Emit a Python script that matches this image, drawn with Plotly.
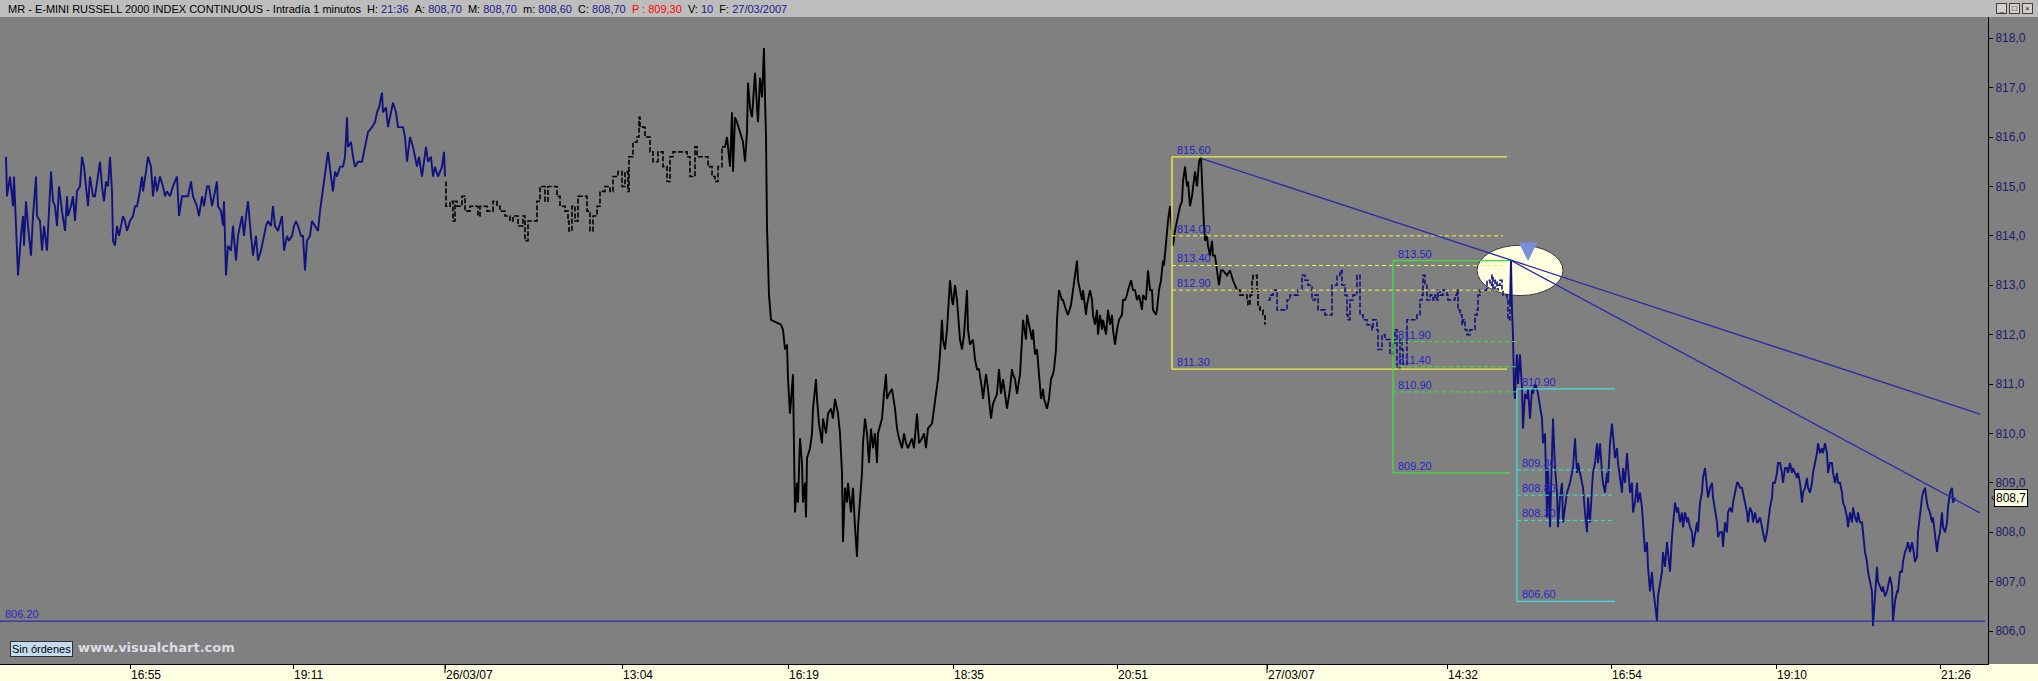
import plotly.graph_objects as go

# ---------------- price path (bar index, price) ----------------
SESSION_1 = [(6,815.6),(7,814.8),(10,815.2),(13,814.6),(14,815.2),(15,814.7),(17,814.0),(18,813.2),(21,814.0),(23,814.4),(24,813.8),(26,814.7),(28,814.2),(31,813.6),(33,814.4),(36,815.2),(37,814.4),(40,814.3),(42,813.7),(44,814.2),(47,813.7),(49,814.4),(51,815.3),(53,814.7),(55,814.6),(57,814.2),(59,815.0),(62,814.5),(65,814.1),(67,814.8),(68,814.4),(71,814.6),(73,814.8),(75,814.3),(77,814.9),(80,815.0),(82,815.6),(84,815.4),(86,815.0),(88,814.6),(90,815.2),(93,814.8),(95,814.8),(97,815.1),(100,815.5),(102,815.0),(104,814.7),(106,815.1),(108,815.0),(110,815.6),(112,814.9),(113,813.9),(115,813.8),(117,814.2),(119,814.0),(123,814.4),(125,814.3),(127,814.1),(130,814.3),(133,814.4),(135,814.6),(137,814.6),(139,814.8),(142,815.2),(143,814.9),(146,815.3),(148,815.6),(151,815.4),(153,814.8),(155,815.2),(157,814.9),(160,815.2),(163,815.0),(165,814.8),(167,814.9),(170,814.8),(173,815.0),(177,815.2),(179,814.4),(182,814.8),(185,814.8),(188,814.8),(191,815.1),(193,814.8),(197,814.6),(199,814.4),(202,814.8),(204,814.6),(207,815.0),(209,815.0),(212,814.6),(214,814.8),(217,815.1),(218,814.6),(221,814.5),(223,814.2),(224,814.7),(226,813.2),(228,813.8),(231,813.7),(233,814.2),(236,813.5),(238,814.0),(242,814.4),(244,814.0),(246,814.4),(248,814.7),(251,814.0),(253,813.6),(256,814.0),(258,813.5),(261,813.7),(263,813.9),(266,814.2),(268,814.3),(271,814.2),(273,814.6),(275,814.2),(278,814.1),(282,814.4),(284,813.7),(287,814.0),(289,813.9),(292,814.0),(294,814.2),(296,814.3),(298,814.2),(301,814.0),(303,814.0),(305,813.3),(307,813.9),(310,814.0),(312,814.3),(315,814.2),(318,814.1),(320,814.5),(322,814.8),(324,815.2),(326,815.5),(328,815.7),(331,815.2),(333,814.9),(335,815.3),(337,815.2),(340,815.4),(343,815.4),(345,815.6),(347,816.4),(348,815.8),(351,815.9),(353,815.6),(355,815.4),(358,815.5),(362,815.5),(365,815.8),(368,816.1),(372,816.2),(375,816.3),(377,816.5),(379,816.6),(382,816.9),(383,816.5),(386,816.6),(388,816.2),(391,816.5),(393,816.7),(396,816.5),(398,816.2),(403,816.2),(405,816.0),(407,815.5),(410,816.0),(413,815.8),(417,815.4),(419,815.6),(422,815.2),(424,815.5),(426,815.8),(428,815.5),(431,815.6),(433,815.2),(435,815.4),(438,815.2),(442,815.4),(444,815.7),(445,815.2)]

SESSION_2 = [(446,815.1),(446,814.6),(450,814.7),(453,814.3),(455,814.7),(457,814.6),(462,814.8),(465,814.5),(470,814.6),(478,814.4),(480,814.6),(487,814.5),(493,814.7),(497,814.6),(500,814.5),(505,814.4),(510,814.3),(513,814.4),(518,814.2),(523,814.4),(525,813.9),(528,814.3),(533,814.3),(537,814.7),(540,815.0),(545,814.7),(548,815.0),(553,815.0),(557,814.8),(560,814.6),(565,814.5),(568,814.3),(569,814.1),(572,814.6),(575,814.3),(578,814.8),(585,814.8),(587,814.5),(590,814.1),(593,814.4),(597,814.6),(600,814.9),(605,815.0),(610,814.9),(613,815.2),(618,815.3),(622,815.0),(625,815.3),(628,814.9),(629,815.6),(633,815.9),(637,816.0),(639,816.4),(640,816.2),(645,816.0),(650,815.7),(653,815.5),(658,815.7),(663,815.4),(667,815.1),(670,815.6),(673,815.7),(678,815.7),(683,815.7),(687,815.6),(690,815.2),(695,815.8),(697,815.6),(702,815.6),(705,815.6),(708,815.4),(712,815.2),(715,815.1),(718,815.4),(722,815.8),
(725,815.8),(727,816.0),(730,815.4),(732,816.5),(733,815.3),(735,816.4),(737,816.3),(740,816.1),(743,815.9),(745,815.5),(747,816.1),(748,817.1),(750,816.6),(752,816.4),(755,817.3),(757,816.6),(758,816.3),(760,817.2),(762,816.8),(763,817.3),(764,817.8),(765,816.8),(766,816.0),(767,814.2),(768,813.5),(769,812.8),(771,812.3),
(781,812.2),(783,812.1),(785,811.7),(787,811.8),(788,811.1),(790,810.4),(793,811.2),(794,809.7),(795,808.4),(797,809.0),(798,808.6),(800,809.9),(802,809.4),(803,808.6),(805,809.0),(806,808.3),(807,809.5),(810,809.7),(812,810.0),(813,810.5),(816,811.1),(817,810.7),(819,810.2),(822,809.8),(823,810.3),(826,810.0),(828,810.4),(831,810.5),(833,810.3),(835,810.7),(837,810.5),(838,810.4),(840,810.0),(842,809.2),(843,807.8),(845,808.9),(847,808.6),(848,809.0),(851,808.4),(853,808.9),(855,808.1),(857,807.5),(858,808.1),(860,808.6),(862,809.2),(863,809.8),(865,810.3),(867,810.0),(869,809.4),(871,810.1),(873,809.7),(875,810.0),(877,809.4),(878,810.0),(882,810.3),(884,810.8),(886,811.2),(887,810.7),(889,810.8),(892,810.9),(895,810.5),(897,810.1),(899,809.9),(902,809.7),(904,810.0),(906,809.8),(908,809.7),(912,809.9),(914,809.7),(917,810.4),(919,809.8),(922,809.9),(924,810.0),(926,809.7),(928,810.1),(932,810.2),(934,810.5),(936,810.8),(938,811.1),(940,811.6),(942,812.3),(943,811.9),(945,811.7),(947,812.1),(948,812.5),(950,813.1),(952,812.7),(953,812.6),(955,813.0),(957,812.7),(960,811.9),(962,811.7),(964,812.0),(967,812.9),(968,812.1),(970,811.8),(973,811.9),(975,811.5),(977,811.3),(979,811.3),(982,810.9),(983,810.7),(986,811.2),(988,810.9),(991,810.3),(993,810.6),(995,810.7),(997,810.8),(999,811.3),(1001,810.8),(1003,811.1),(1005,810.8),(1007,810.5),(1010,810.9),(1012,811.3),(1013,811.2),(1015,811.1),(1017,810.8),(1020,811.2),(1022,811.9),(1023,812.3),(1026,811.9),(1027,812.4),(1029,812.2),(1032,811.9),(1033,812.1),(1035,811.6),(1037,811.7),(1039,811.2),(1041,810.7),(1043,810.9),(1044,810.7),(1047,810.5),(1049,810.7),(1051,811.1),(1053,811.2),(1054,811.3),(1056,811.7),(1057,812.3),(1059,812.9),(1062,812.7),(1063,812.7),(1066,812.5),(1068,812.4),(1071,812.6),(1073,812.9),(1075,813.1),(1077,813.5),(1078,813.1),(1080,812.9),(1082,812.7),(1083,812.9),(1086,812.4),(1087,812.6),(1090,812.9),(1092,812.7),(1093,812.4),(1095,812.2),(1097,812.5),(1098,812.0),(1100,812.4),(1102,812.1),(1103,812.3),(1106,812.0),(1108,812.5),(1110,812.2),(1112,812.4),(1113,812.1),(1115,811.8),(1117,812.1),(1119,812.3),(1122,812.4),(1123,812.7),(1125,812.7),(1127,812.8),(1128,812.9),(1131,813.1),(1133,812.9),(1135,812.9),(1137,812.7),(1139,812.8),(1142,812.5),(1143,812.8),(1146,812.7),(1148,813.3),(1150,812.9),(1152,812.9),(1153,812.5),(1156,812.4),(1157,812.5),(1159,812.9),(1161,813.1),(1163,813.5),(1164,813.4),(1166,813.9),(1168,814.3),(1170,814.6),(1172,814.1),(1173,813.8),(1175,814.1),(1177,814.3),(1180,814.6),
(1182,814.7),(1183,815.1),(1185,815.4),(1187,815.0),(1188,815.1),(1190,814.6),(1192,814.8),(1193,815.0),(1195,815.3),(1197,815.0),(1198,815.4),(1199,815.5),(1201,815.6),(1202,815.1),(1203,814.5),(1204,814.2),(1205,813.9),(1207,814.0),(1208,813.8),(1210,813.6),(1212,813.9),(1213,813.6),(1215,813.6),(1217,813.3),(1218,813.1),(1219,813.0),(1221,813.3),(1223,813.3),(1227,813.2),(1230,813.3),(1233,813.1),(1237,812.9),(1240,812.8),(1243,812.8),(1247,812.7),(1248,812.6),(1250,812.8),(1252,813.1),(1253,813.2),(1257,812.9),(1258,812.6),(1260,812.5),(1263,812.4),(1265,812.2)]

SESSION_3 = [(1268,812.7),(1270,812.8),(1273,812.9),(1277,812.5),(1280,812.5),(1283,812.5),(1287,812.7),(1290,812.8),(1293,812.8),(1298,812.9),(1302,813.2),(1305,813.1),(1308,813.0),(1312,812.7),(1315,812.8),(1318,812.5),(1322,812.5),(1325,812.4),(1328,812.4),(1332,813.0),(1333,813.0),(1337,813.2),(1340,813.3),(1342,813.0),(1345,812.8),(1347,812.4),(1348,812.3),(1350,812.7),(1353,812.8),(1357,813.2),(1360,812.4),(1363,812.3),(1367,812.2),(1372,812.1),(1373,812.3),(1377,812.1),(1378,811.7),(1382,812.0),(1385,811.9),(1388,811.9),(1390,811.6),(1393,811.8),(1395,812.1),(1397,811.3),(1398,811.3),(1400,811.9),(1402,811.7),(1403,811.4),(1407,812.3),(1410,812.3),(1413,812.3),(1417,812.4),(1420,812.7),(1422,812.8),(1423,813.2),(1425,813.0),(1427,812.7),(1430,812.8),(1433,812.7),(1435,812.8),(1437,812.7),(1438,812.9),(1440,812.8),(1443,812.9),(1447,812.8),(1448,812.7),(1452,812.7),(1455,812.8),(1457,812.9),(1458,812.5),(1460,812.4),(1462,812.2),(1463,812.3),(1465,812.1),(1467,812.0),(1470,812.1),(1473,812.1),(1475,812.4),(1477,812.5),(1478,812.8),(1480,812.9),(1483,812.9),(1487,813.1),(1488,813.1),(1490,813.0),(1492,813.2),(1493,812.9),(1495,813.1),(1497,812.9),(1498,813.0),(1500,813.1),(1502,812.9),(1503,812.8),(1505,812.8),(1507,812.7),(1508,812.3),(1510,812.6),
(1511,813.5),(1512,812.5),(1513,812.0),(1514,810.9),(1515,810.7),(1516,811.3),(1517,811.6),(1518,811.0),(1520,811.6),(1522,810.9),(1523,810.1),(1525,810.8),(1527,810.7),(1528,810.9),(1530,810.3),(1532,810.9),(1533,810.8),(1535,811.0),(1537,810.9),(1538,810.8),(1540,810.5),(1542,810.3),(1543,809.8),(1545,810.0),(1547,808.3),(1548,809.3),(1550,808.1),(1552,809.9),(1553,810.3),(1555,809.3),(1557,808.8),(1558,808.1),(1560,808.7),(1562,809.0),(1563,808.2),(1567,808.8),(1570,809.0),(1573,809.3),(1575,809.9),(1577,809.2),(1578,809.4),
(1582,809.0),(1583,808.9),(1585,808.4),(1587,808.0),(1588,808.7),(1590,808.2),(1592,808.9),(1593,809.2),(1595,809.4),(1597,809.8),(1598,809.4),(1600,809.8),(1602,809.2),(1603,809.0),(1605,808.8),(1607,809.2),(1608,809.0),(1610,809.8),(1612,810.2),(1613,810.0),(1615,809.5),(1617,809.7),(1618,809.4),(1620,809.1),(1622,808.8),(1623,809.3),(1625,809.0),(1627,809.6),(1628,809.3),(1630,808.8),(1632,809.0),(1633,808.4),(1635,808.6),(1637,809.0),(1638,808.6),(1640,808.8),(1642,808.5),(1643,808.2),(1645,807.6),(1647,807.8),(1648,807.3),(1650,806.8),(1652,807.2),(1653,806.9),(1655,806.6),(1657,806.2),(1658,806.7),(1660,807.0),(1662,807.2),(1663,807.6),(1665,807.3),(1667,807.8),(1668,807.6),(1670,807.2),(1672,807.9),(1673,808.1),(1675,808.6),(1677,808.4),(1678,808.5),(1680,808.2),(1682,808.4),(1683,808.1),(1685,808.4),(1687,808.2),(1688,808.3),(1690,808.1),(1692,808.0),(1693,807.7),(1695,808.0),(1697,808.2),(1698,808.0),(1700,808.6),(1702,808.8),(1703,809.1),(1705,809.3),(1707,808.8),(1708,808.7),(1710,808.9),(1712,809.0),(1713,808.7),(1715,808.4),(1717,808.2),(1718,807.9),(1720,808.0),(1722,808.0),(1723,807.7),(1725,808.2),(1727,808.0),(1728,808.4),(1730,808.5),(1732,808.4),(1733,808.6),(1735,808.8),(1737,809.0),(1738,809.0),(1740,808.9),(1742,808.9),(1743,808.8),(1745,808.6),(1747,808.4),(1748,808.2),(1750,808.5),(1752,808.4),(1753,808.2),(1755,808.4),(1757,808.2),(1758,808.2),(1760,808.3),(1762,808.1),(1763,808.0),(1765,807.8),(1767,808.0),(1768,808.2),(1770,808.5),(1772,808.7),(1773,809.0),(1775,809.0),(1777,809.2),(1778,809.4),(1780,809.4),(1782,809.2),(1783,809.0),(1785,809.3),(1787,809.3),(1788,809.2),(1790,809.4),(1792,809.2),(1793,809.3),(1795,809.2),(1797,809.1),(1798,809.2),(1800,809.0),(1802,808.6),(1803,808.8),(1805,808.9),(1807,809.1),(1808,808.9),(1810,808.8),(1812,809.0),(1813,809.2),(1815,809.4),(1817,809.6),(1818,809.8),(1820,809.6),(1822,809.7),(1823,809.6),(1825,809.8),(1827,809.6),(1828,809.2),(1830,809.4),(1832,809.4),(1833,809.2),(1835,809.0),(1837,809.2),(1838,809.0),(1840,809.0),(1842,808.8),(1843,808.6),(1845,808.5),(1847,808.3),(1848,808.1),(1850,808.4),(1852,808.2),(1853,808.5),(1855,808.3),(1857,808.2),(1858,808.4),(1860,808.2),(1862,808.2),(1863,808.0),(1865,807.6),(1867,807.4),(1868,807.2),(1870,807.0),(1872,806.8),(1873,806.1),(1875,806.7),(1877,807.3),(1878,807.0),(1880,806.9),(1882,806.8),(1883,806.9),(1885,806.7),(1887,806.8),(1888,806.9),(1890,807.1),(1892,806.9),(1893,806.2),(1895,806.6),(1897,806.8),(1898,806.8),(1900,807.2),(1902,807.2),(1903,807.4),(1905,807.6),(1907,807.7),(1908,807.8),(1910,807.6),(1912,807.8),(1913,807.7),(1915,807.4),(1917,807.5),(1918,808.0),(1920,808.4),(1922,808.7),(1923,808.8),(1925,808.9),(1927,808.6),(1928,808.5),(1930,808.4),(1932,808.2),(1933,808.3),(1935,808.0),(1937,807.6),(1938,807.8),(1940,808.0),(1942,808.4),(1943,808.1),(1945,808.0),(1947,808.2),(1948,808.5),(1950,808.8),(1952,808.9),(1953,808.6),(1955,808.7)]

# bar ranges traded thinly (drawn as stepped dashes)
SPARSE_RANGES = [(445, 722), (1236, 1510)]

# ---------------- axes ----------------
TICK_BARS = [130, 293, 445, 622, 788, 953, 1117, 1267, 1447, 1611, 1776, 1940]
TICK_LABELS = ["16:55", "19:11", "26/03/07", "13:04", "16:19", "18:35", "20:51",
               "27/03/07", "14:32", "16:54", "19:10", "21:26"]
DATE_TICK_BARS = [445, 1267]
PRICE_TICKS = [806, 807, 808, 809, 810, 811, 812, 813, 814, 815, 816, 817, 818]
PRICE_TICK_LABELS = ["806,0", "807,0", "808,0", "809,0", "810,0", "811,0", "812,0",
                     "813,0", "814,0", "815,0", "816,0", "817,0", "818,0"]
BAR_RANGE = [0, 1988]
PRICE_RANGE = [805.332, 818.43]

# ---------------- drawings ----------------
FIB_YELLOW_BARS = [1172, 1507, 1503]          # start, box end, retracement end
FIB_YELLOW_LEVELS = [815.60, 814.00, 813.40, 812.90, 811.30]
FIB_YELLOW_LABELS = ["815.60", "814.00", "813.40", "812.90", "811.30"]

FIB_GREEN_BARS = [1393, 1510, 1516]
FIB_GREEN_LEVELS = [813.50, 811.86, 811.35, 810.84, 809.20]
FIB_GREEN_LABELS = ["813.50", "811.90", "811.40", "810.90", "809.20"]

FIB_CYAN_BARS = [1517, 1615, 1615]
FIB_CYAN_LEVELS = [810.90, 809.26, 808.75, 808.24, 806.60]
FIB_CYAN_LABELS = ["810.90", "809.30", "808.80", "808.30", "806.60"]

TREND_LINES = [((1201, 815.57), (1980, 810.39)), ((1511, 813.50), (1980, 808.39))]
SUPPORT_LEVEL = 806.20
SUPPORT_LABEL = "806.20"
SUPPORT_END_BAR = 1985
ELLIPSE_BARS = [1477, 1563]
ELLIPSE_PRICES = [812.79, 813.81]
ARROW_BAR = 1528
ARROW_PRICE = 813.49
LAST_PRICE = 808.7
LAST_PRICE_LABEL = "808,7"

HEADER_NAME = "MR - E-MINI RUSSELL 2000 INDEX CONTINUOUS - Intradía 1 minutos"
HEADER_FIELDS = [("H:", "21:36"), ("A:", "808,70"), ("M:", "808,70"), ("m:", "808,60"),
                 ("C:", "808,70"), ("P :", "809,30"), ("V:", "10"), ("F:", "27/03/2007")]

# ---------------- styling ----------------
NAVY = "#12127e"
BLACK = "#000000"
LABEL_BLUE = "#2626c0"
TREND_BLUE = "#2a2aa8"
YELLOW = "#f2f24a"
GREEN = "#3ee03e"
CYAN = "#3ee0e0"
PLOT_BG = "#808080"

W, H = 2038, 681
ML, MR, MT, MB = 0, 50, 17, 17
PW, PH = W - ML - MR, H - MT - MB


def is_sparse(b):
    return any(lo <= b < hi for lo, hi in SPARSE_RANGES)


def runs(points):
    out = []
    cur = [points[0]]
    flag = is_sparse(points[0][0])
    for p in points[1:]:
        f = is_sparse(p[0])
        if f != flag:
            cur.append(p)
            out.append((flag, cur))
            cur = [p]
            flag = f
        else:
            cur.append(p)
    out.append((flag, cur))
    return out


fig = go.Figure()

for session, color in ((SESSION_1, NAVY), (SESSION_2, BLACK), (SESSION_3, NAVY)):
    for sparse, pts in runs(session):
        xs = [p[0] for p in pts]
        ys = [p[1] for p in pts]
        if sparse:
            line = dict(color=color, width=1.6, shape="hv", dash="5px,2px")
        else:
            line = dict(color=color, width=1.9, shape="linear")
        fig.add_trace(go.Scatter(x=xs, y=ys, mode="lines", line=line,
                                 hoverinfo="skip", showlegend=False))

shapes = []
annotations = []

# background regions outside the plot area (title strip, time band)
shapes.append(dict(type="rect", xref="paper", yref="paper", layer="below",
                   x0=-0.01, x1=W / PW + 0.01, y0=1.0, y1=1 + MT / PH + 0.01,
                   fillcolor="#bdbdbd", line=dict(width=0)))
shapes.append(dict(type="rect", xref="paper", yref="paper", layer="below",
                   x0=-0.01, x1=W / PW + 0.01, y0=-MB / PH - 0.01, y1=0.0,
                   fillcolor="#ffffe1", line=dict(width=0)))

# ellipse highlight
shapes.append(dict(type="circle", xref="x", yref="y", layer="below",
                   x0=ELLIPSE_BARS[0], x1=ELLIPSE_BARS[1],
                   y0=ELLIPSE_PRICES[0], y1=ELLIPSE_PRICES[1],
                   fillcolor="#ffffe0", line=dict(color="#3a3a3a", width=1)))


def fib(bars, levels, labels, color):
    start, box_end, mid_end = bars
    shapes.append(dict(type="line", xref="x", yref="y", x0=start, x1=start,
                       y0=levels[0], y1=levels[-1], line=dict(color=color, width=1.3)))
    for i, lvl in enumerate(levels):
        edge = i in (0, len(levels) - 1)
        shapes.append(dict(type="line", xref="x", yref="y", x0=start,
                           x1=box_end if edge else mid_end, y0=lvl, y1=lvl,
                           line=dict(color=color, width=1.3 if edge else 1,
                                     dash="solid" if edge else "4px,3px")))
        annotations.append(dict(x=start + 3, y=lvl, xref="x", yref="y", text=labels[i],
                                showarrow=False, xanchor="left", yanchor="bottom",
                                yshift=-1, font=dict(family="Arial", size=11,
                                                     color=LABEL_BLUE)))


fib(FIB_YELLOW_BARS, FIB_YELLOW_LEVELS, FIB_YELLOW_LABELS, YELLOW)
fib(FIB_GREEN_BARS, FIB_GREEN_LEVELS, FIB_GREEN_LABELS, GREEN)
fib(FIB_CYAN_BARS, FIB_CYAN_LEVELS, FIB_CYAN_LABELS, CYAN)

for (b0, p0), (b1, p1) in TREND_LINES:
    shapes.append(dict(type="line", xref="x", yref="y", x0=b0, y0=p0, x1=b1, y1=p1,
                       line=dict(color=TREND_BLUE, width=1.3)))

shapes.append(dict(type="line", xref="x", yref="y", x0=BAR_RANGE[0], x1=SUPPORT_END_BAR,
                   y0=SUPPORT_LEVEL, y1=SUPPORT_LEVEL, line=dict(color=TREND_BLUE, width=1.3)))
annotations.append(dict(x=3, y=SUPPORT_LEVEL, xref="x", yref="y", text=SUPPORT_LABEL,
                        showarrow=False, xanchor="left", yanchor="bottom", yshift=-1,
                        font=dict(family="Arial", size=11, color=LABEL_BLUE)))

# taller tick marks at day changes
for b in DATE_TICK_BARS:
    shapes.append(dict(type="line", xref="x", yref="paper", x0=b, x1=b,
                       y0=0, y1=-9 / PH, line=dict(color="black", width=1)))

# down arrow inside the ellipse
annotations.append(dict(x=ARROW_BAR, y=ARROW_PRICE, xref="x", yref="y", text="",
                        showarrow=True, ax=0, ay=-15, arrowhead=2, arrowsize=0.75,
                        arrowwidth=5, arrowcolor="#7c8ed8"))

# last price flag on the price axis
annotations.append(dict(x=1 + 6 / PW, y=LAST_PRICE, xref="paper", yref="y",
                        text=LAST_PRICE_LABEL, showarrow=False, xanchor="left",
                        yanchor="middle", bgcolor="#ffffe1", bordercolor="#000000",
                        borderwidth=1, borderpad=1,
                        font=dict(family="Arial", size=12, color="black")))
annotations.append(dict(x=1 + 1 / PW, y=LAST_PRICE, xref="paper", yref="y",
                        text="‹", showarrow=False, xanchor="left", yanchor="middle",
                        font=dict(family="Arial", size=10, color="black")))

# header line
parts = [HEADER_NAME]
for k, v in HEADER_FIELDS:
    if k.startswith("P"):
        parts.append('<span style="color:#ff0000">%s %s</span>' % (k, v))
    else:
        parts.append('%s <span style="color:#1a1a8c">%s</span>' % (k, v))
header = "\u00a0\u00a0".join(parts)
annotations.append(dict(x=6 / PW, y=1 + (MT / 2) / PH, xref="paper", yref="paper",
                        text=header, showarrow=False, xanchor="left", yanchor="middle",
                        font=dict(family="Arial", size=11, color="black")))

# window buttons
for i, g in enumerate(["_", "□", "×"]):
    annotations.append(dict(x=(1996 + i * 13) / PW, y=1 + (MT / 2) / PH, xref="paper",
                            yref="paper", text=g, showarrow=False, xanchor="left",
                            yanchor="middle", bgcolor="#d4d0c8", bordercolor="#404040",
                            borderwidth=1, borderpad=0, width=9, height=9,
                            font=dict(family="Arial", size=8, color="black")))

# bottom-left status button and watermark
annotations.append(dict(x=10 / PW, y=15 / PH, xref="paper", yref="paper",
                        text="Sin órdenes", showarrow=False, xanchor="left",
                        yanchor="middle", bgcolor="#c4dcf2", bordercolor="#303030",
                        borderwidth=1, borderpad=1,
                        font=dict(family="Arial", size=11, color="black")))
annotations.append(dict(x=76 / PW, y=17 / PH, xref="paper", yref="paper",
                        text="<b>www.visualchart.com</b>", showarrow=False,
                        xanchor="left", yanchor="middle",
                        font=dict(family="DejaVu Sans", size=13, color="#dcdce4")))

fig.update_layout(
    width=W, height=H,
    margin=dict(l=ML, r=MR, t=MT, b=MB, pad=0),
    paper_bgcolor=PLOT_BG, plot_bgcolor=PLOT_BG,
    showlegend=False,
    shapes=shapes, annotations=annotations,
    xaxis=dict(range=BAR_RANGE, tickmode="array", tickvals=TICK_BARS, ticktext=TICK_LABELS,
               ticks="outside", ticklen=4, tickcolor="black", showgrid=False,
               zeroline=False, showline=True, linecolor="black", linewidth=1,
               ticklabelposition="outside right",
               tickfont=dict(family="Arial", size=12, color="black"), fixedrange=True),
    yaxis=dict(range=PRICE_RANGE, side="right", tickmode="array", tickvals=PRICE_TICKS,
               ticktext=PRICE_TICK_LABELS, ticks="outside", ticklen=4, tickcolor="black",
               showgrid=False, zeroline=False, showline=True, linecolor="black",
               linewidth=1, tickfont=dict(family="Arial", size=12, color="#1c1c6a"),
               fixedrange=True),
)

fig.write_html("out.html", config={"displayModeBar": False},
               post_script="document.body.style.margin='0';document.body.style.overflow='hidden';")
